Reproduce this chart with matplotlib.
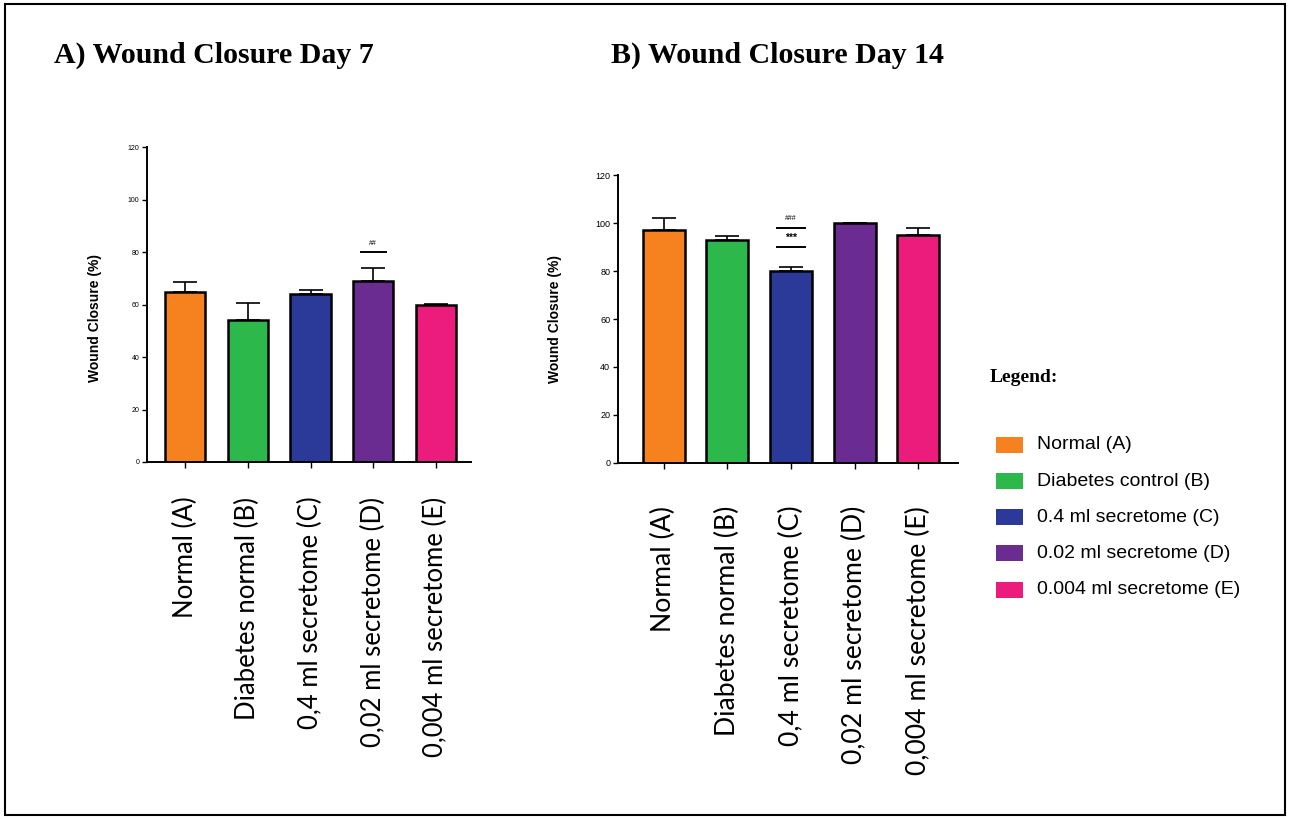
import matplotlib
matplotlib.use("Agg")
import matplotlib.pyplot as plt
from matplotlib.patches import Rectangle

categories = ["Normal (A)", "Diabetes normal (B)", "0,4 ml secretome (C)",
              "0,02 ml secretome (D)", "0,004 ml secretome (E)"]
legend_labels = ["Normal (A)", "Diabetes control (B)", "0.4 ml secretome (C)",
                 "0.02 ml secretome (D)", "0.004 ml secretome (E)"]
colors = ["#F5821F", "#2DB84B", "#2B3A99", "#6B2C91", "#EC1C7D"]

day7_values = [65, 54, 64, 69, 60]
day7_err = [3.5, 6.5, 1.5, 5, 0.4]
day14_values = [97, 93, 80, 100, 95]
day14_err = [5, 1.5, 1.5, 0, 3]
yticks = [0, 20, 40, 60, 80, 100, 120]

fig = plt.figure(figsize=(12.9, 8.19), dpi=100)
fig.patch.set_facecolor("white")
fig.add_artist(Rectangle((0.004, 0.005), 0.992, 0.99, transform=fig.transFigure,
                         fill=False, edgecolor="black", linewidth=1.5))

def panel(rect, values, errs, xlim, width, ytick_fs, xpad, xfs):
    ax = fig.add_axes(rect)
    x = list(range(len(values)))
    ax.bar(x, values, width=width, color=colors, edgecolor="black", linewidth=1.8, zorder=2)
    ax.errorbar(x, values, yerr=[[0]*len(errs), errs], fmt="none", ecolor="black",
                elinewidth=1.2, capsize=8.5, capthick=1.2, zorder=1)
    ax.set_ylim(0, 120)
    ax.set_xlim(*xlim)
    ax.set_yticks(yticks)
    ax.set_yticklabels([str(t) for t in yticks], fontsize=ytick_fs, family="Liberation Sans")
    ax.set_xticks(x)
    ax.set_xticklabels(categories, rotation=90, fontsize=xfs, family="Lato")
    ax.tick_params(axis="y", length=3.5, width=1, pad=2)
    ax.tick_params(axis="x", length=4, width=1, pad=xpad)
    for s in ["top", "right"]:
        ax.spines[s].set_visible(False)
    for s in ["left", "bottom"]:
        ax.spines[s].set_linewidth(1.4)
    ax.set_ylabel("Wound Closure (%)", fontsize=10, fontweight="bold",
                  family="Liberation Sans")
    return ax

axA = panel([0.114, 0.436, 0.251, 0.384], day7_values, day7_err, (-0.61, 4.56), 0.64,
            5, 21, 18.5)
axB = panel([0.479, 0.435, 0.264, 0.351], day14_values, day14_err, (-0.72, 4.63), 0.66,
            6.5, 27, 19.2)
axA.yaxis.set_label_coords(-0.139, 0.457)
axB.yaxis.set_label_coords(-0.165, 0.5)

# significance annotations
axA.plot([3 - 0.2, 3 + 0.2], [80, 80], color="black", linewidth=1.4)
axA.text(3, 83.5, "##", ha="center", va="center", fontsize=5, family="Liberation Sans")
axB.plot([2 - 0.22, 2 + 0.22], [90, 90], color="black", linewidth=1.4)
axB.text(2, 94, "***", ha="center", va="center", fontsize=7.5, family="Liberation Sans",
         fontweight="bold")
axB.plot([2 - 0.22, 2 + 0.22], [98, 98], color="black", linewidth=1.4)
axB.text(2, 102, "###", ha="center", va="center", fontsize=5, family="Liberation Sans")

fig.text(0.042, 0.933, "A) Wound Closure Day 7", fontsize=21.5, fontweight="bold",
         family="Liberation Serif", va="center")
fig.text(0.474, 0.933, "B) Wound Closure Day 14", fontsize=21.5, fontweight="bold",
         family="Liberation Serif", va="center")
fig.text(990 / 1290, 1 - 378 / 819, "Legend:", fontsize=14, fontweight="bold",
         family="Liberation Serif", va="center")

# legend entries
leg_y = [445, 481, 517, 553, 590]
for c, l, yp in zip(colors, legend_labels, leg_y):
    yf = 1 - yp / 819
    fig.add_artist(Rectangle((996 / 1290, yf - 8 / 819), 27 / 1290, 16 / 819,
                             transform=fig.transFigure, facecolor=c, edgecolor="none"))
    fig.text(1037 / 1290, yf, l, fontsize=14, family="Liberation Sans", va="center")

fig.savefig("out.png", dpi=100, facecolor="white")
